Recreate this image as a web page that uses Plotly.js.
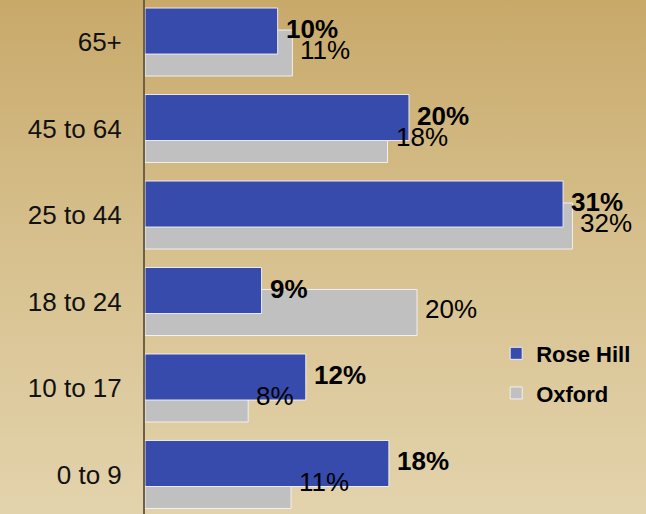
<!DOCTYPE html>
<html>
<head>
<meta charset="utf-8">
<script src="https://cdn.plot.ly/plotly-3.0.1.min.js"></script>
<style>
  html, body { margin: 0; padding: 0; }
  #chart { width: 646px; height: 514px; background: linear-gradient(to bottom, #C8A96A 0%, #D6BF8C 45%, #E3D3AC 100%); }
</style>
</head>
<body>
<div id="chart"></div>
<script>
// Data (bottom to top)
const categories = ['0 to 9', '10 to 17', '18 to 24', '25 to 44', '45 to 64', '65+'];
const roseHill = [18.2, 12.0, 8.7, 31.2, 19.7, 9.9];
const oxford = [10.9, 7.7, 20.3, 31.9, 18.1, 11.0];
const seriesNames = ['Rose Hill', 'Oxford'];
const seriesColors = ['#374BAD', '#C0C0C0'];

const FONT = '"Liberation Sans", Arial, sans-serif';
const positions = categories.map((_, i) => i);
const barWidth = 0.532;
const rhOffset = -0.139;
const oxOffset = -0.393;
const edge = { color: 'rgba(245,245,250,0.9)', width: 1 };

const traces = [
  {
    type: 'bar', orientation: 'h', name: seriesNames[1], legendgroup: 'b', legendrank: 2,
    x: oxford, y: positions, width: barWidth, offset: oxOffset,
    marker: { color: seriesColors[1], line: edge }, hoverinfo: 'skip'
  },
  {
    type: 'bar', orientation: 'h', name: seriesNames[0], legendgroup: 'a', legendrank: 1,
    x: roseHill, y: positions, width: barWidth, offset: rhOffset,
    marker: { color: seriesColors[0], line: edge }, hoverinfo: 'skip'
  }
];

const annotations = [];
roseHill.forEach((v, i) => annotations.push({
  x: v, y: positions[i] + rhOffset + barWidth / 2, xref: 'x', yref: 'y',
  text: Math.round(v) + '%', showarrow: false, xanchor: 'left', yanchor: 'middle',
  xshift: 6, yshift: 2,
  font: { family: FONT, size: 26, color: '#000', weight: 'bold' }
}));
oxford.forEach((v, i) => annotations.push({
  x: v, y: positions[i] + oxOffset + barWidth / 2, xref: 'x', yref: 'y',
  text: Math.round(v) + '%', showarrow: false, xanchor: 'left', yanchor: 'middle',
  xshift: 6, yshift: 3,
  font: { family: FONT, size: 26, color: '#000' }
}));

const layout = {
  width: 646, height: 514,
  margin: { l: 145, r: 0, t: 0, b: 0, pad: 0 },
  paper_bgcolor: 'rgba(0,0,0,0)', plot_bgcolor: 'rgba(0,0,0,0)',
  barmode: 'overlay',
  font: { family: FONT, color: '#000' },
  xaxis: { range: [0, 37.39], visible: false, fixedrange: true },
  yaxis: {
    range: [-0.457, 5.486], tickmode: 'array', tickvals: positions, ticktext: categories,
    showgrid: false, zeroline: false, showline: true, linecolor: '#6E6047', linewidth: 2,
    ticks: '', ticklabelstandoff: 16, tickfont: { family: FONT, size: 26, color: '#111' },
    fixedrange: true
  },
  showlegend: true,
  legend: {
    x: 0.701, xanchor: 'left', y: 0.2733, yanchor: 'middle',
    bgcolor: 'rgba(0,0,0,0)', borderwidth: 0,
    traceorder: 'grouped', tracegroupgap: 8,
    font: { family: FONT, size: 22, color: '#000', weight: 'bold' }
  },
  annotations: annotations
};

Plotly.newPlot('chart', traces, layout, { displayModeBar: false, staticPlot: true });
</script>
</body>
</html>
